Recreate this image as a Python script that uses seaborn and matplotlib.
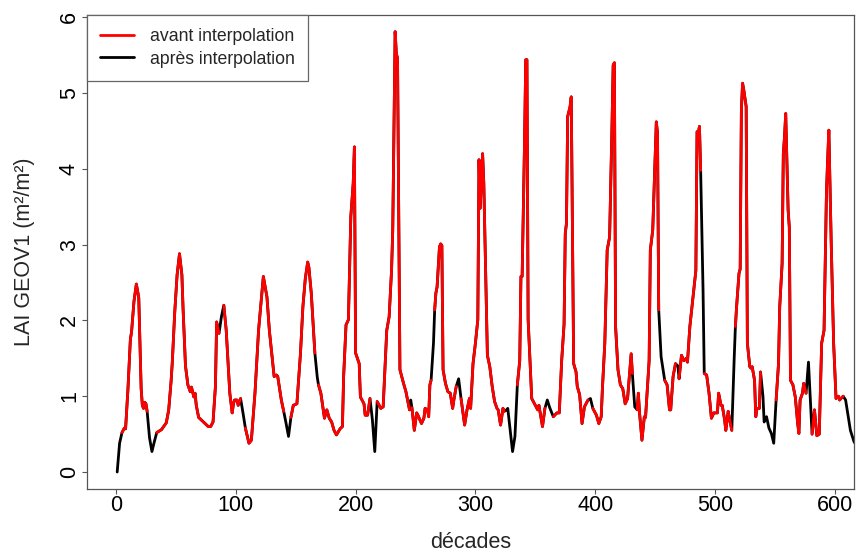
import numpy as np
import pandas as pd
import matplotlib
matplotlib.use("Agg")
import matplotlib.pyplot as plt
import seaborn as sns
from matplotlib.lines import Line2D

# ---- data ----
decades = [1, 3, 5, 7, 8, 10, 12, 13, 15, 17, 19, 21, 22, 23, 24, 25, 26, 28, 30, 32,
           34, 38, 42, 44, 46, 47, 49, 51, 53, 55, 56, 58, 60, 62, 63, 65, 66, 67, 69, 73,
           77, 79, 81, 83, 84, 86, 88, 90, 92, 95, 97, 98, 99, 101, 102, 104, 106, 108, 111, 113,
           116, 119, 123, 126, 128, 132, 134, 135, 138, 140, 142, 144, 146, 148, 151, 154, 156, 158, 160, 161,
           163, 166, 168, 169, 171, 172, 174, 176, 178, 180, 182, 184, 187, 189, 190, 192, 194, 196, 198, 199,
           200, 203, 204, 207, 208, 210, 212, 214, 216, 218, 221, 223, 226, 228, 230, 231, 233, 234, 235, 237,
           240, 242, 244, 245, 246, 247, 249, 251, 252, 255, 257, 258, 260, 261, 262, 263, 265, 266, 267, 268,
           270, 271, 272, 273, 275, 277, 279, 281, 282, 284, 286, 288, 291, 293, 295, 296, 298, 300, 302, 303,
           304, 306, 307, 310, 312, 314, 316, 318, 319, 321, 323, 324, 326, 327, 329, 331, 333, 335, 337, 338,
           339, 341, 342, 343, 344, 347, 350, 352, 353, 356, 358, 360, 362, 365, 368, 370, 372, 374, 375, 376,
           377, 379, 380, 382, 384, 385, 387, 389, 391, 394, 396, 398, 401, 403, 405, 406, 408, 410, 412, 414,
           415, 416, 417, 419, 421, 423, 425, 427, 430, 431, 433, 435, 436, 437, 439, 441, 442, 445, 446, 448,
           451, 452, 453, 455, 458, 460, 462, 463, 465, 467, 469, 470, 472, 474, 476, 477, 479, 482, 484, 485,
           486, 487, 488, 490, 491, 493, 495, 497, 499, 502, 503, 505, 506, 508, 509, 511, 512, 514, 516, 517,
           518, 520, 521, 522, 523, 524, 526, 527, 529, 530, 531, 533, 534, 535, 537, 538, 540, 541, 543, 545,
           547, 549, 551, 553, 554, 556, 557, 558, 559, 561, 562, 563, 565, 567, 569, 570, 571, 573, 574, 576,
           578, 581, 583, 585, 587, 589, 591, 593, 594, 595, 597, 599, 601, 603, 604, 605, 607, 609, 611, 613,
           616, 618]

lai_apres = [0.00, 0.38, 0.52, 0.58, 0.57, 1.10, 1.75, 1.85, 2.25, 2.48, 2.30, 1.10, 0.88, 0.84, 0.92, 0.90, 0.80, 0.45, 0.27, 0.40,
             0.52, 0.56, 0.65, 0.82, 1.20, 1.45, 2.10, 2.60, 2.88, 2.60, 2.15, 1.40, 1.15, 1.06, 1.12, 0.99, 1.04, 0.88, 0.72, 0.66,
             0.60, 0.60, 0.66, 1.13, 1.98, 1.83, 2.05, 2.20, 1.87, 1.04, 0.78, 0.90, 0.95, 0.95, 0.88, 0.97, 0.78, 0.58, 0.38, 0.42,
             1.04, 1.87, 2.58, 2.31, 1.87, 1.26, 1.28, 1.26, 0.95, 0.80, 0.64, 0.47, 0.72, 0.88, 0.90, 1.57, 2.18, 2.55, 2.77, 2.70,
             2.36, 1.57, 1.25, 1.15, 1.04, 0.93, 0.71, 0.82, 0.71, 0.66, 0.55, 0.49, 0.57, 0.60, 1.26, 1.94, 2.01, 3.37, 3.81, 4.29,
             1.57, 1.43, 0.99, 0.90, 0.75, 0.75, 0.97, 0.69, 0.27, 0.93, 0.84, 0.86, 1.87, 2.05, 2.66, 3.19, 5.81, 5.52, 5.46, 1.35,
             1.17, 1.06, 0.90, 0.82, 0.95, 0.85, 0.55, 0.78, 0.75, 0.64, 0.71, 0.84, 0.82, 0.73, 1.15, 1.21, 1.70, 2.14, 2.36, 2.44,
             2.97, 3.01, 2.99, 1.35, 1.17, 1.06, 1.04, 0.84, 0.95, 1.13, 1.23, 0.97, 0.62, 0.82, 0.97, 0.84, 1.43, 1.70, 2.01, 4.12,
             3.48, 4.20, 3.81, 1.54, 1.39, 1.13, 0.93, 0.84, 0.82, 0.62, 0.84, 0.80, 0.82, 0.84, 0.55, 0.27, 0.47, 1.15, 1.47, 2.58,
             2.58, 4.34, 5.44, 5.44, 2.01, 0.97, 0.88, 0.82, 0.88, 0.60, 0.84, 0.95, 0.85, 0.73, 0.78, 0.78, 1.47, 1.95, 3.15, 3.28,
             4.69, 4.82, 4.95, 1.43, 1.32, 1.13, 1.02, 0.64, 0.86, 0.95, 0.97, 0.84, 0.75, 0.64, 0.73, 1.10, 1.70, 2.93, 3.10, 4.56,
             5.37, 5.40, 1.92, 1.35, 1.15, 1.10, 0.90, 0.97, 1.56, 1.30, 0.86, 0.82, 1.04, 0.78, 0.42, 0.73, 0.72, 1.47, 2.93, 3.19,
             4.62, 4.47, 2.14, 1.52, 1.21, 1.15, 0.82, 0.82, 1.26, 1.43, 1.40, 1.23, 1.54, 1.47, 1.50, 1.45, 1.92, 2.36, 2.66, 4.49,
             4.47, 4.56, 3.98, 2.40, 1.30, 1.28, 1.04, 0.71, 0.78, 0.78, 1.04, 0.88, 0.88, 0.69, 0.55, 0.80, 0.71, 0.55, 1.50, 1.92,
             2.18, 2.62, 2.68, 4.78, 5.13, 5.04, 4.82, 1.70, 1.39, 1.37, 1.39, 1.21, 0.73, 0.84, 0.84, 1.32, 1.00, 0.66, 0.73, 0.58,
             0.51, 0.38, 0.95, 1.43, 2.18, 2.75, 4.20, 4.42, 4.73, 3.46, 3.23, 1.21, 1.15, 0.99, 0.64, 0.51, 0.95, 1.04, 1.17, 1.04,
             1.45, 0.50, 0.82, 0.48, 0.50, 1.70, 1.87, 3.68, 4.12, 4.51, 3.01, 1.70, 0.97, 1.00, 0.95, 0.97, 1.00, 0.95, 0.75, 0.55,
             0.40, 0.35]

# decades filled by interpolation (no original value)
decades_interpolees = [1, 3, 28, 30, 32, 88, 106, 142, 144, 168, 214, 216, 246, 265, 286,
                       326, 327, 329, 331, 333, 360, 362, 396, 433, 455, 469, 490, 516,
                       540, 541, 543, 545, 547, 549, 578, 609, 611, 613, 616, 618]

legend_labels = ["avant interpolation", "après interpolation"]
x_ticks = [0, 100, 200, 300, 400, 500, 600]
y_ticks = [0, 1, 2, 3, 4, 5, 6]

# ---- build tables ----
df = pd.DataFrame({"decade": decades, "apres": lai_apres})
df["avant"] = np.where(df["decade"].isin(decades_interpolees), np.nan, df["apres"])
df["seg"] = df["avant"].isna().cumsum()
red = df.dropna(subset=["avant"])

sns.set_theme(style="white")
plt.rcParams["font.family"] = ["Liberation Sans", "DejaVu Sans"]

W, H = 856, 556
fig = plt.figure(figsize=(W / 100, H / 100), dpi=100)
L, R, T, B = 87, 854, 15, 489
ax = fig.add_axes([L / W, 1 - B / H, (R - L) / W, (B - T) / H])

sns.lineplot(data=df, x="decade", y="apres", color="black", linewidth=2.0,
             estimator=None, sort=False, ax=ax)
sns.lineplot(data=red, x="decade", y="avant", units="seg", color="#ff0000", linewidth=2.0,
             estimator=None, sort=False, ax=ax)

ax.set_xlim(-24.2, 616)
ax.set_ylim(-0.224, 6.03)
ax.set_xticks(x_ticks)
ax.set_yticks(y_ticks)
ax.set_xticklabels([str(v) for v in x_ticks])
ax.set_yticklabels([str(v) for v in y_ticks])
ax.tick_params(axis="both", which="major", bottom=True, left=True, direction="out",
               length=3.6, width=0.8, color="#555555", labelsize=15.5, labelcolor="black")
ax.tick_params(axis="x", pad=1)
ax.tick_params(axis="y", pad=1.5)
for lab in ax.get_yticklabels():
    lab.set_rotation(90)
    lab.set_va("center")
    lab.set_ha("right")

for s in ax.spines.values():
    s.set_color("#555555")
    s.set_linewidth(0.9)

ax.set_xlabel("décades", fontsize=15.5, labelpad=11)
ax.set_ylabel("LAI GEOV1 (m²/m²)", fontsize=15.5, labelpad=17)

handles = [Line2D([], [], color="#ff0000", lw=2.0), Line2D([], [], color="black", lw=2.0)]
leg = ax.legend(handles, legend_labels, loc="upper left", bbox_to_anchor=(0, 1),
                borderaxespad=0, fancybox=False, frameon=True, fontsize=12.7,
                handlelength=1.9, handletextpad=0.9, borderpad=0.75, labelspacing=0.3)
leg.get_frame().set_edgecolor("#666666")
leg.get_frame().set_linewidth(0.9)
leg.get_frame().set_alpha(1)

fig.savefig("out.png", dpi=100)
